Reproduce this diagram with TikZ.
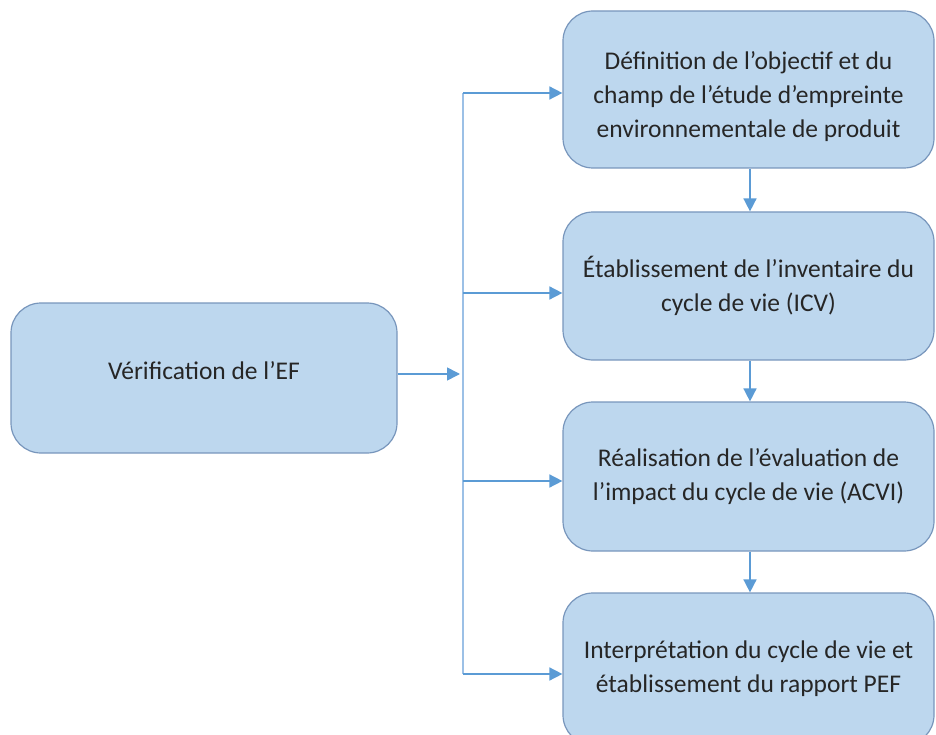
\documentclass[tikz,border=0pt]{standalone}
\usepackage{fontspec}
\setmainfont{Carlito}
\usetikzlibrary{arrows.meta}
\definecolor{boxfill}{HTML}{BDD7EE}
\definecolor{boxline}{HTML}{7896BC}
\definecolor{flow}{HTML}{5B9BD5}
\definecolor{trunkline}{HTML}{9CC0E6}
\tikzset{
  stage/.style={draw=boxline, line width=1.2pt, fill=boxfill, rounded corners=30pt,
    align=center, font=\fontsize{25.5}{34}\selectfont, text=black!85, inner sep=0pt},
  flowarrow/.style={draw=flow, line width=1.6pt, -{Triangle[length=13pt,width=13pt]}},
  trunk/.style={draw=trunkline, line width=2pt}
}
\begin{document}
\begin{tikzpicture}[x=1pt,y=-1pt]
\useasboundingbox (0,0) rectangle (936,735);
\clip (0,0) rectangle (936,735);

% left verification box
\node[stage, minimum width=386pt, minimum height=150pt] (verif) at (204,378)
  {Vérification de l’EF\\[-20pt]};

% the four stages on the right
\node[stage, minimum width=371pt, minimum height=157pt] (s1) at (748.5,89.5)
  {\\[-2pt]Définition de l’objectif et du\\champ de l’étude d’empreinte\\environnementale de produit};
\node[stage, minimum width=371pt, minimum height=148pt] (s2) at (748.5,286)
  {\\[-12pt]Établissement de l’inventaire du\\cycle de vie (ICV)};
\node[stage, minimum width=371pt, minimum height=149pt] (s3) at (748.5,476.5)
  {Réalisation de l’évaluation de\\l’impact du cycle de vie (ACVI)};
\node[stage, minimum width=371pt, minimum height=152pt] (s4) at (748.5,669)
  {Interprétation du cycle de vie et\\établissement du rapport PEF};

% branching trunk
\coordinate (top) at (463,93);
\coordinate (bot) at (463,674);
\coordinate (split) at (460,374);
\draw[trunk] (top) -- (bot);

\draw[flowarrow] (verif.east |- split) -- (split);
\draw[flowarrow] (top) -- (top -| s1.west);
\draw[flowarrow] ([yshift=-7pt]s2.west -| top) -- ([yshift=-7pt]s2.west);
\draw[flowarrow] ([yshift=-4.5pt]s3.west -| top) -- ([yshift=-4.5pt]s3.west);
\draw[flowarrow] (bot) -- (bot -| s4.west);

% sequence between stages
\draw[flowarrow] ([xshift=1.5pt]s1.south) -- ([xshift=1.5pt]s2.north);
\draw[flowarrow] ([xshift=1.5pt]s2.south) -- ([xshift=1.5pt]s3.north);
\draw[flowarrow] ([xshift=1.5pt]s3.south) -- ([xshift=1.5pt]s4.north);
\end{tikzpicture}
\end{document}
